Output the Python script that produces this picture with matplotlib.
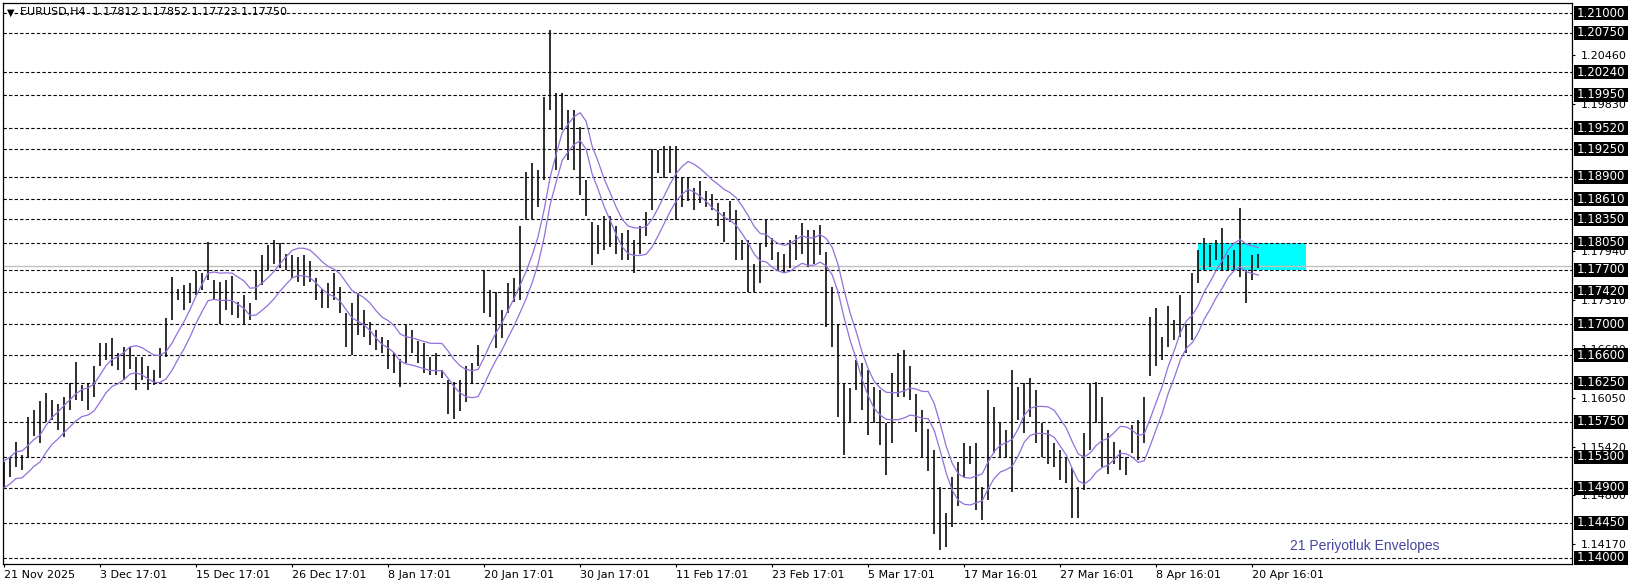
import matplotlib
matplotlib.use("Agg")
import matplotlib.pyplot as plt
import numpy as np
import pandas as pd
from matplotlib.patches import Rectangle
from matplotlib.transforms import blended_transform_factory

# EURUSD H4; each entry merges 3 consecutive H4 bars
highs = [
    1.1523, 1.1530, 1.1549, 1.1532, 1.1581, 1.1590, 1.1601, 1.1612, 1.1603, 1.1598,
    1.1607, 1.1625, 1.1651, 1.1622, 1.1625, 1.1646, 1.1676, 1.1676, 1.1682, 1.1663,
    1.1671, 1.1671, 1.1658, 1.1658, 1.1646, 1.1641, 1.1669, 1.1708, 1.1761, 1.1746,
    1.1751, 1.1753, 1.1769, 1.1766, 1.1806, 1.1757, 1.1755, 1.1757, 1.1762, 1.1729,
    1.1738, 1.1727, 1.1770, 1.1789, 1.1802, 1.1809, 1.1804, 1.1791, 1.1789, 1.1787,
    1.1789, 1.1781, 1.1759, 1.1746, 1.1753,
    1.1766, 1.1748, 1.1714, 1.1727, 1.1740, 1.1718, 1.1703, 1.1693, 1.1684, 1.1680,
    1.1663, 1.1656, 1.1699, 1.1693, 1.1678, 1.1676, 1.1658, 1.1663, 1.1641, 1.1628,
    1.1626, 1.1628, 1.1646, 1.1650, 1.1673, 1.1770, 1.1744, 1.1742, 1.1718, 1.1753,
    1.1759, 1.1826, 1.1896, 1.1907, 1.1899, 1.1993, 1.2079, 1.1997, 1.1997, 1.1976,
    1.1976, 1.1954, 1.1886, 1.1832, 1.1828, 1.1839, 1.1839, 1.1826, 1.1817, 1.1821,
    1.1809, 1.1826, 1.1845,
    1.1926, 1.1924, 1.1929, 1.1929, 1.1929, 1.1890, 1.1890, 1.1875, 1.1884, 1.1871,
    1.1868, 1.1856, 1.1845, 1.1858, 1.1847, 1.1808, 1.1808, 1.1778, 1.1804, 1.1834,
    1.1811, 1.1793, 1.1791, 1.1808, 1.1815, 1.1830, 1.1821, 1.1821, 1.1828, 1.1793,
    1.1748, 1.1699, 1.1624, 1.1618, 1.1654, 1.1650, 1.1641, 1.1620, 1.1616, 1.1573,
    1.1637, 1.1663, 1.1667, 1.1646, 1.1611, 1.1590, 1.1566, 1.1538, 1.1491, 1.1457,
    1.1504, 1.1523, 1.1547, 1.1543,
    1.1547, 1.1491, 1.1616, 1.1594, 1.1573, 1.1564, 1.1641, 1.1620, 1.1624, 1.1631,
    1.1616, 1.1573, 1.1564, 1.1547, 1.1538, 1.1530, 1.1515, 1.1491, 1.1560, 1.1624,
    1.1626, 1.1607, 1.1560, 1.1549, 1.1538, 1.1530, 1.1571, 1.1577, 1.1607, 1.1710,
    1.1721, 1.1684, 1.1723, 1.1706, 1.1738, 1.1701, 1.1766, 1.1796, 1.1811, 1.1802,
    1.1809, 1.1824, 1.1789, 1.1796, 1.1849, 1.1770, 1.1789, 1.1791,
]
lows = [
    1.1491, 1.1504, 1.1517, 1.1513, 1.1530, 1.1556, 1.1547, 1.1575, 1.1577, 1.1564,
    1.1555, 1.1590, 1.1603, 1.1601, 1.1590, 1.1607, 1.1646, 1.1654, 1.1646, 1.1641,
    1.1628, 1.1643, 1.1616, 1.1628, 1.1615, 1.1622, 1.1631, 1.1658, 1.1706, 1.1731,
    1.1718, 1.1727, 1.1738, 1.1744, 1.1757, 1.1733, 1.1701, 1.1718, 1.1712, 1.1708,
    1.1701, 1.1706, 1.1731, 1.1751, 1.1768, 1.1778, 1.1772, 1.1770, 1.1759, 1.1755,
    1.1749, 1.1755, 1.1731, 1.1721, 1.1721,
    1.1731, 1.1714, 1.1671, 1.1661, 1.1686, 1.1684, 1.1673, 1.1667, 1.1663, 1.1643,
    1.1637, 1.1620, 1.1650, 1.1663, 1.1650, 1.1637, 1.1635, 1.1635, 1.1631, 1.1585,
    1.1578, 1.1588, 1.1600, 1.1624, 1.1646, 1.1714, 1.1710, 1.1669, 1.1682, 1.1714,
    1.1729, 1.1731, 1.1834, 1.1836, 1.1851, 1.1886, 1.1976, 1.1899, 1.1950, 1.1911,
    1.1899, 1.1866, 1.1839, 1.1776, 1.1791, 1.1796, 1.1800, 1.1791, 1.1783, 1.1783,
    1.1766, 1.1791, 1.1813,
    1.1847, 1.1894, 1.1888, 1.1894, 1.1834, 1.1851, 1.1858, 1.1847, 1.1856, 1.1851,
    1.1847, 1.1826, 1.1806, 1.1832, 1.1783, 1.1783, 1.1742, 1.1742, 1.1753, 1.1800,
    1.1783, 1.1770, 1.1766, 1.1772, 1.1783, 1.1791, 1.1774, 1.1778, 1.1789, 1.1697,
    1.1671, 1.1581, 1.1532, 1.1573, 1.1616, 1.1590, 1.1558, 1.1573, 1.1545, 1.1506,
    1.1547, 1.1607, 1.1607, 1.1603, 1.1562, 1.1530, 1.1511, 1.1431, 1.1410, 1.1414,
    1.1440, 1.1466, 1.1504, 1.1521,
    1.1461, 1.1448, 1.1474, 1.1534, 1.1530, 1.1530, 1.1485, 1.1577, 1.1560, 1.1581,
    1.1547, 1.1530, 1.1521, 1.1517, 1.1500, 1.1496, 1.1451, 1.1451, 1.1487, 1.1538,
    1.1573, 1.1517, 1.1508, 1.1521, 1.1513, 1.1506, 1.1534, 1.1526, 1.1547, 1.1633,
    1.1646, 1.1654, 1.1671, 1.1680, 1.1684, 1.1663, 1.1680, 1.1753, 1.1770, 1.1774,
    1.1783, 1.1770, 1.1770, 1.1770, 1.1761, 1.1727, 1.1757, 1.1772,
]

# horizontal levels drawn on the chart (dashed, with black price tags)
levels = [1.21000, 1.20750, 1.20240, 1.19950, 1.19520, 1.19250, 1.18900, 1.18610,
          1.18350, 1.18050, 1.17700, 1.17420, 1.17000, 1.16600, 1.16250, 1.15750,
          1.15300, 1.14900, 1.14450, 1.14000]
# price scale labels that are not hidden behind the level tags
scale_ticks = [1.20460, 1.19830, 1.17940, 1.17310, 1.16680, 1.16050, 1.15420,
               1.14800, 1.14170]
date_labels = ["21 Nov 2025", "3 Dec 17:01", "15 Dec 17:01", "26 Dec 17:01",
               "8 Jan 17:01", "20 Jan 17:01", "30 Jan 17:01", "11 Feb 17:01",
               "23 Feb 17:01", "5 Mar 17:01", "17 Mar 16:01", "27 Mar 16:01",
               "8 Apr 16:01", "20 Apr 16:01"]
bars_per_label = 16
bid = 1.17750
header = "EURUSD,H4  1.17812 1.17852 1.17723 1.17750"
zone_lo, zone_hi = 1.17700, 1.18050
zone_start, zone_end = 199, 217
env_period = 7        # 21 H4 bars -> 7 merged bars
env_dev = 0.0015

W, H = 1636, 587
fig = plt.figure(figsize=(W / 100, H / 100), dpi=100)
ax = fig.add_axes([3 / W, 23 / H, 1569 / W, 561 / H])

x = np.arange(len(highs))
hi = np.array(highs)
lo = np.array(lows)

ymin, ymax = 1.139179, 1.211325
ax.set_xlim(-1 / 6, 1568 / 6 - 1 / 6 + 0.1)
ax.set_ylim(ymin, ymax)

ax.add_patch(Rectangle((zone_start, zone_lo), zone_end - zone_start, zone_hi - zone_lo,
                       fc="#00FFFF", ec="none", zorder=0.5))
for lv in levels:
    ax.axhline(lv, color="black", lw=0.8, ls=(0, (3, 2)), zorder=1)
ax.axhline(bid, color="#c0c0c0", lw=1.0, zorder=1.2)

ax.vlines(x, lo, hi, color="black", lw=1.15, zorder=2)

ma = pd.Series((hi + lo) / 2).rolling(env_period, min_periods=1).mean().to_numpy()
ax.plot(x, ma * (1 + env_dev), color="#9370DB", lw=0.9, zorder=3)
ax.plot(x, ma * (1 - env_dev), color="#9370DB", lw=0.9, zorder=3)

for s in ax.spines.values():
    s.set_color("black")
    s.set_linewidth(0.9)

# bottom date scale
ax.set_xticks([i * bars_per_label for i in range(len(date_labels))])
ax.set_xticklabels(date_labels, ha="left", fontsize=8)
ax.tick_params(axis="x", direction="out", length=2.5, width=0.8, pad=1.5)

# right price scale
ax.yaxis.tick_right()
ax.set_yticks(scale_ticks)
ax.set_yticklabels([f"{v:.5f}" for v in scale_ticks], fontsize=8)
ax.tick_params(axis="y", direction="out", length=2.5, width=0.8, pad=3.5)

tr = blended_transform_factory(ax.transAxes, ax.transData)
px_y = (ymax - ymin) / 561
px_x = 1 / 1569
for lv in levels:
    ax.add_patch(Rectangle((1 + 2 * px_x, lv - 7 * px_y), 54 * px_x, 14 * px_y,
                           transform=tr, fc="black", ec="none", clip_on=False, zorder=5))
    ax.text(1 + 29 * px_x, lv, f"{lv:.5f}", transform=tr, color="white", fontsize=8.5,
            ha="center", va="center", clip_on=False, zorder=6)

fig.text(7 / W, 1 - 12.5 / H, "\u25bc", fontsize=7, va="center", ha="left")
fig.text(20 / W, 1 - 12.5 / H, header, fontsize=8, va="center", ha="left")
fig.text(1290 / W, 1 - 546 / H, "21 Periyotluk Envelopes", fontsize=10,
         family="Liberation Sans", color="#4646a0", va="center", ha="left")

fig.savefig("out.png", dpi=100, facecolor="white")
